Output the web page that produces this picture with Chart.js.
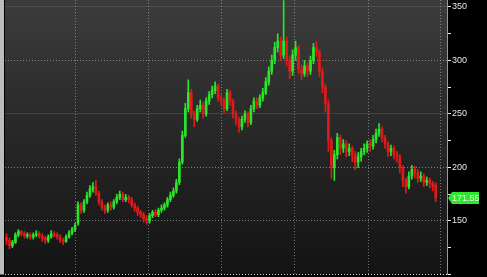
<!DOCTYPE html>
<html>
<head>
<meta charset="utf-8">
<script src="https://cdn.jsdelivr.net/npm/chart.js@4.4.1/dist/chart.umd.min.js"></script>
<style>
  html, body { margin: 0; padding: 0; background: #000; }
  #wrap { width: 487px; height: 277px; }
</style>
</head>
<body>
<div id="wrap"><canvas id="chart" width="487" height="277"></canvas></div>
<script>
// daily candles (index = trading day)
const opens = [
  135,132,127,130,137,140,138,136,137,135,
  137,138,136,134,132,135,138,137,135,132,
  131,135,139,142,148,165,160,168,174,180,
  182,176,168,163,160,165,163,168,172,175,
  170,172,170,165,162,158,156,152,150,155,
  158,156,160,162,165,170,174,178,186,205,
  230,255,270,250,245,255,258,250,262,268,
  272,276,265,262,255,270,262,250,245,238,
  245,250,242,255,262,258,265,270,280,290,
  300,312,318,305,318,300,290,305,312,292,
  288,295,290,300,312,308,290,275,260,225,
  200,212,228,218,222,215,218,212,205,210,
  215,218,222,220,226,232,236,228,222,215,
  218,212,210,200,188,182,192,198,195,190,
  192,186,188,185,184
];
const highs = [
  138,134,132,139,142,141,140,139,139,139,
  141,140,138,136,137,141,140,139,137,134,
  137,141,144,148,168,167,170,177,183,186,
  188,178,170,165,167,168,170,175,178,177,
  175,174,172,167,164,160,158,155,157,160,
  161,162,165,167,172,177,181,189,208,234,
  260,282,273,253,258,263,261,265,271,276,
  280,278,268,265,273,272,264,253,247,248,
  253,252,258,265,265,268,274,284,294,305,
  317,325,322,356,322,304,310,318,314,296,
  300,298,304,316,318,310,293,278,263,228,
  216,232,230,226,225,222,220,215,214,218,
  222,225,226,230,236,241,238,230,224,221,
  220,215,212,202,190,196,202,201,198,196,
  194,191,190,187,186
];
const lows = [
  128,124,125,129,135,136,134,134,133,133,
  135,134,131,129,130,134,135,133,130,128,
  130,134,137,140,146,157,158,166,172,177,
  174,165,160,157,158,160,161,166,170,168,
  168,167,163,159,155,153,149,147,148,153,
  154,154,158,160,163,168,172,176,184,203,
  228,252,246,238,243,252,246,248,259,265,
  269,262,258,251,253,258,246,240,233,235,
  242,238,240,252,255,256,262,268,277,287,
  297,308,300,302,295,283,286,300,288,282,
  285,285,287,297,304,285,270,252,215,190,
  188,208,212,214,210,211,205,198,200,206,
  212,214,215,217,223,229,224,218,210,211,
  208,205,195,182,176,180,189,190,186,187,
  182,183,181,178,168
];
const closes = [
  132,127,130,137,140,138,136,137,135,137,
  138,136,134,132,135,138,137,135,132,131,
  135,139,142,146,165,160,168,174,180,182,
  176,168,163,160,165,163,168,172,175,170,
  172,170,165,162,158,156,152,150,155,158,
  156,160,162,165,170,174,178,186,205,230,
  255,270,250,245,255,258,250,262,268,272,
  276,265,262,255,270,262,250,245,238,245,
  250,242,255,262,258,265,270,280,290,300,
  312,318,305,318,300,290,305,312,292,288,
  295,290,300,312,308,290,275,260,225,200,
  212,228,218,222,215,218,212,205,210,215,
  218,222,220,226,232,236,228,222,215,218,
  212,210,200,188,182,192,198,195,190,192,
  186,188,185,182,171.55
];
// vertical grid lines (period boundaries, in candle index units)
const xGridAt = [23.3, 47.5, 72.3, 96.5, 121.3, 145.5];
// price axis
const yTicksMajor = [150, 200, 250, 300, 350];
const yDotted = [100, 150, 200, 300];
const lastPrice = 171.55;

const UP = "#2ae62a";
const DOWN = "#e01a1a";
const colors = closes.map((c, i) => (c >= opens[i] ? UP : DOWN));

const wicks = closes.map((c, i) => ({ x: i, y: [lows[i], highs[i]] }));
const bodies = closes.map((c, i) => ({ x: i, y: [opens[i], closes[i]] }));

const backdrop = {
  id: "backdrop",
  beforeDraw(chart) {
    const { ctx, chartArea: a } = chart;
    ctx.save();
    ctx.fillStyle = "#000";
    ctx.fillRect(0, 0, chart.width, chart.height);
    const g = ctx.createLinearGradient(0, a.top, 0, a.bottom);
    g.addColorStop(0, "#3c3c3c");
    g.addColorStop(0.5, "#272727");
    g.addColorStop(1, "#131313");
    ctx.fillStyle = g;
    ctx.fillRect(a.left, a.top, a.right - a.left, a.bottom - a.top);
    ctx.fillStyle = "#bcbcbc";
    ctx.fillRect(0, 0, a.left - 1, a.bottom);
    ctx.restore();
  }
};

const priceTag = {
  id: "priceTag",
  afterDraw(chart) {
    const { ctx } = chart;
    const ys = chart.scales.y;
    const y = Math.round(ys.getPixelForValue(lastPrice));
    const x0 = ys.left + 1;
    ctx.save();
    ctx.fillStyle = "#2ee62e";
    ctx.beginPath();
    ctx.moveTo(x0, y);
    ctx.lineTo(x0 + 4, y - 6);
    ctx.lineTo(chart.width - 8, y - 6);
    ctx.lineTo(chart.width - 8, y + 6);
    ctx.lineTo(x0 + 4, y + 6);
    ctx.closePath();
    ctx.fill();
    ctx.fillStyle = "#e8ffe0";
    ctx.font = "9px 'Liberation Sans', Arial, sans-serif";
    ctx.textBaseline = "middle";
    ctx.fillText(lastPrice.toFixed(2), x0 + 4, y + 0.5);
    ctx.restore();
  }
};

new Chart(document.getElementById("chart"), {
  type: "bar",
  data: {
    datasets: [
      {
        data: bodies,
        backgroundColor: colors,
        borderWidth: 0,
        barThickness: 2,
        grouped: false
      },
      {
        data: wicks,
        backgroundColor: colors,
        borderWidth: 0,
        barThickness: 1,
        grouped: false
      }
    ]
  },
  options: {
    responsive: false,
    animation: false,
    layout: { padding: { left: 5, right: 0, top: 0, bottom: 2.5 } },
    plugins: { legend: { display: false }, tooltip: { enabled: false } },
    scales: {
      x: {
        type: "linear",
        min: -0.5,
        max: 147.8,
        offset: false,
        afterBuildTicks: (axis) => {
          axis.ticks = xGridAt.map((v) => ({ value: v }));
        },
        afterFit: (axis) => {
          axis.height = 0;
          axis.paddingLeft = 0;
          axis.paddingRight = 0;
        },
        ticks: { display: false },
        grid: { color: "rgba(200,200,200,0.5)", drawTicks: false, offset: false },
        border: { display: false, dash: [1, 2] }
      },
      y: {
        position: "right",
        min: 100,
        max: 356.5,
        afterFit: (axis) => {
          axis.width = 40;
          axis.paddingTop = 0;
          axis.paddingBottom = 0;
        },
        ticks: {
          stepSize: 25,
          includeBounds: false,
          padding: 1,
          color: "#e6e6e6",
          font: { family: "'Liberation Sans', Arial, sans-serif", size: 9 },
          callback: (v) => (yTicksMajor.includes(v) ? String(v) : "")
        },
        grid: {
          color: (c) => {
            const v = c.tick && c.tick.value;
            if (v === 100) return "rgba(235,235,235,0.9)";
            if (yDotted.includes(v)) return "rgba(205,205,205,0.55)";
            return v % 50 === 0 ? "rgba(150,150,150,0.22)" : "rgba(0,0,0,0)";
          },
          tickColor: "#f0f0f0",
          tickLength: 4
        },
        border: {
          display: true,
          color: "#9a9a9a",
          dash: (c) => (c.tick && yDotted.includes(c.tick.value) ? [1, 2] : [])
        }
      }
    }
  },
  plugins: [backdrop, priceTag]
});
</script>
</body>
</html>
